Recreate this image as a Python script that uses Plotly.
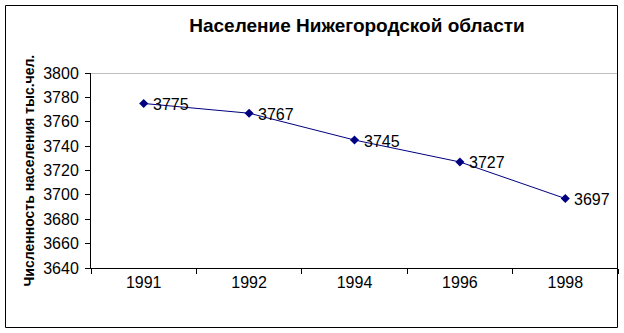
import plotly.graph_objects as go

years = ["1991", "1992", "1994", "1996", "1998"]
population = [3775, 3767, 3745, 3727, 3697]
y_ticks = [3640, 3660, 3680, 3700, 3720, 3740, 3760, 3780, 3800]

title_text = "Население Нижегородской области"
y_title = "Численность населения тыс.чел."

W, H = 624, 333
L, R, T, B = 91, 618, 73, 268

FONT = "Arial, Liberation Sans, sans-serif"

fig = go.Figure()
fig.add_trace(go.Scatter(
    x=years, y=population,
    mode="lines+markers",
    line=dict(color="#000080", width=1),
    marker=dict(symbol="diamond", size=7, color="#000080"),
    cliponaxis=False,
    showlegend=False,
))

pw = R - L
ph = B - T

shapes = [
    dict(type="line", xref="paper", yref="y", x0=0, x1=1, y0=3800, y1=3800,
         line=dict(color="#808080", width=1)),
    dict(type="rect", xref="paper", yref="paper",
         x0=(5.5 - L) / pw, x1=(617.5 - L) / pw,
         y0=(B - 327.5) / ph, y1=(B - 5.5) / ph,
         line=dict(color="black", width=1)),
]

annotations = [dict(text="<b>" + y_title + "</b>", textangle=-90,
                    xref="paper", yref="paper",
                    x=(28 - L) / pw, y=0.5, xanchor="center", yanchor="middle",
                    showarrow=False,
                    font=dict(family=FONT, size=14, color="black"))]
for i, v in enumerate(population):
    annotations.append(dict(x=i, y=v, xref="x", yref="y", text=str(v),
                            showarrow=False, xanchor="left", yanchor="middle",
                            xshift=7, yshift=-1,
                            font=dict(family=FONT, size=16, color="black")))

fig.update_layout(
    width=W, height=H,
    margin=dict(l=L, r=W - R, t=T, b=H - B, pad=0),
    paper_bgcolor="white", plot_bgcolor="white",
    font=dict(family=FONT, color="black"),
    title=dict(text="<b>" + title_text + "</b>", x=357 / W, y=1 - 25 / H,
               xref="container", yref="container",
               xanchor="center", yanchor="middle",
               font=dict(family=FONT, size=19, color="black")),
    shapes=shapes,
    annotations=annotations,
)

fig.update_xaxes(
    type="category", range=[-0.5, 4.5],
    tickson="boundaries", ticks="outside", ticklen=5, tickcolor="black",
    showline=True, linecolor="black", linewidth=1,
    showgrid=False, zeroline=False,
    tickfont=dict(family=FONT, size=16, color="black"),
)
fig.update_yaxes(
    range=[3640, 3800], tickvals=y_ticks,
    ticks="outside", ticklen=5, tickcolor="black",
    showline=True, linecolor="black", linewidth=1,
    showgrid=False, zeroline=False,
    ticklabelstandoff=3,
    tickfont=dict(family=FONT, size=16, color="black"),
)

fig.write_html("out.html")
